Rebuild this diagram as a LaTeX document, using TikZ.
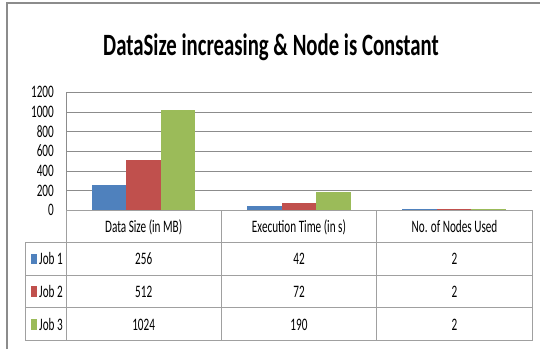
\documentclass[tikz,border=0pt]{standalone}
\usepackage{fontspec}
\newfontfamily\cf[FakeStretch=0.64]{Carlito}
\newfontfamily\cft[FakeStretch=0.67]{Carlito}
\definecolor{jobA}{HTML}{4F81BD}
\definecolor{jobB}{HTML}{C0504D}
\definecolor{jobC}{HTML}{9BBB59}
\definecolor{gridc}{HTML}{8C8C8C}
\definecolor{tabc}{HTML}{A0A0A0}
\begin{document}
\begin{tikzpicture}[x=1pt,y=-1pt,
  gridline/.style={draw=gridc,line width=0.9pt},
  tabline/.style={draw=tabc,line width=0.9pt},
  framel/.style={draw=gridc,line width=1.4pt},
  small/.style={font=\cf\fontsize{17.5}{18}\selectfont,inner sep=0pt,text=black},
  ttl/.style={font=\cft\bfseries\fontsize{31}{31}\selectfont,inner sep=0pt}]
\useasboundingbox (0,0) rectangle (540,349);
\fill[white] (0,0) rectangle (540,349);
% frame
\draw[framel] (7,349) -- (7,3) -- (540,3);
% title
\node[ttl,anchor=base] (title) at (271,55) {DataSize increasing \& Node is Constant};
% grid and axis labels
\foreach \v/\n in {0/a0,200/a1,400/a2,600/a3,800/a4,1000/a5,1200/a6}{
  \pgfmathsetmacro{\yy}{210.3-\v*0.09833}
  \ifnum\v>0 \draw[gridline] (66,\yy) -- (532.3,\yy);\fi
  \node[small,anchor=base east] (\n) at (54,\yy+5.4) {\v};
}
\draw[gridline] (66,92.3) -- (66,210.3);
% bars
\foreach \c/\a/\b/\d in {66/256/512/1024, 221.33/42/72/190, 376.67/2/2/2}{
  \foreach \col/\val/\k in {jobA/\a/0, jobB/\b/1, jobC/\d/2}{
    \pgfmathsetmacro{\hh}{max(\val*0.09833,1.2)}
    \pgfmathsetmacro{\xx}{\c+25.7+\k*34.5}
    \fill[\col] (\xx,210.3) rectangle (\xx+34.5,210.3-\hh);
  }
}
% table lines
\draw[tabline] (66,210.3) -- (532.3,210.3);
\foreach \y in {242.7,275.3,307.7,340.7}{\draw[tabline] (25,\y) -- (532.3,\y);}
\draw[tabline] (25,242.7) -- (25,340.7);
\foreach \x in {66,221.33,376.67,532.3}{\draw[tabline] (\x,210.3) -- (\x,340.7);}
% header
\node[small,anchor=base] (h1) at (143.67,232.5) {Data Size (in MB)};
\node[small,anchor=base] (h2) at (299,232.5) {Execution Time (in s)};
\node[small,anchor=base] (h3) at (454.5,232.5) {No. of Nodes Used};
% rows
\foreach \r/\col/\lab/\a/\b/\d [count=\i] in {259/jobA/Job 1/256/42/2, 291.5/jobB/Job 2/512/72/2, 324.2/jobC/Job 3/1024/190/2}{
  \fill[\col] (31,\r-5.2) rectangle (36.7,\r+5.4);
  \node[small,anchor=base west] (l\i) at (39,\r+5.8) {\lab};
  \node[small,anchor=base] (d\i) at (143.67,\r+5.8) {\a};
  \node[small,anchor=base] (e\i) at (299,\r+5.8) {\b};
  \node[small,anchor=base] (n\i) at (454.5,\r+5.8) {\d};
}
\end{tikzpicture}
\end{document}
